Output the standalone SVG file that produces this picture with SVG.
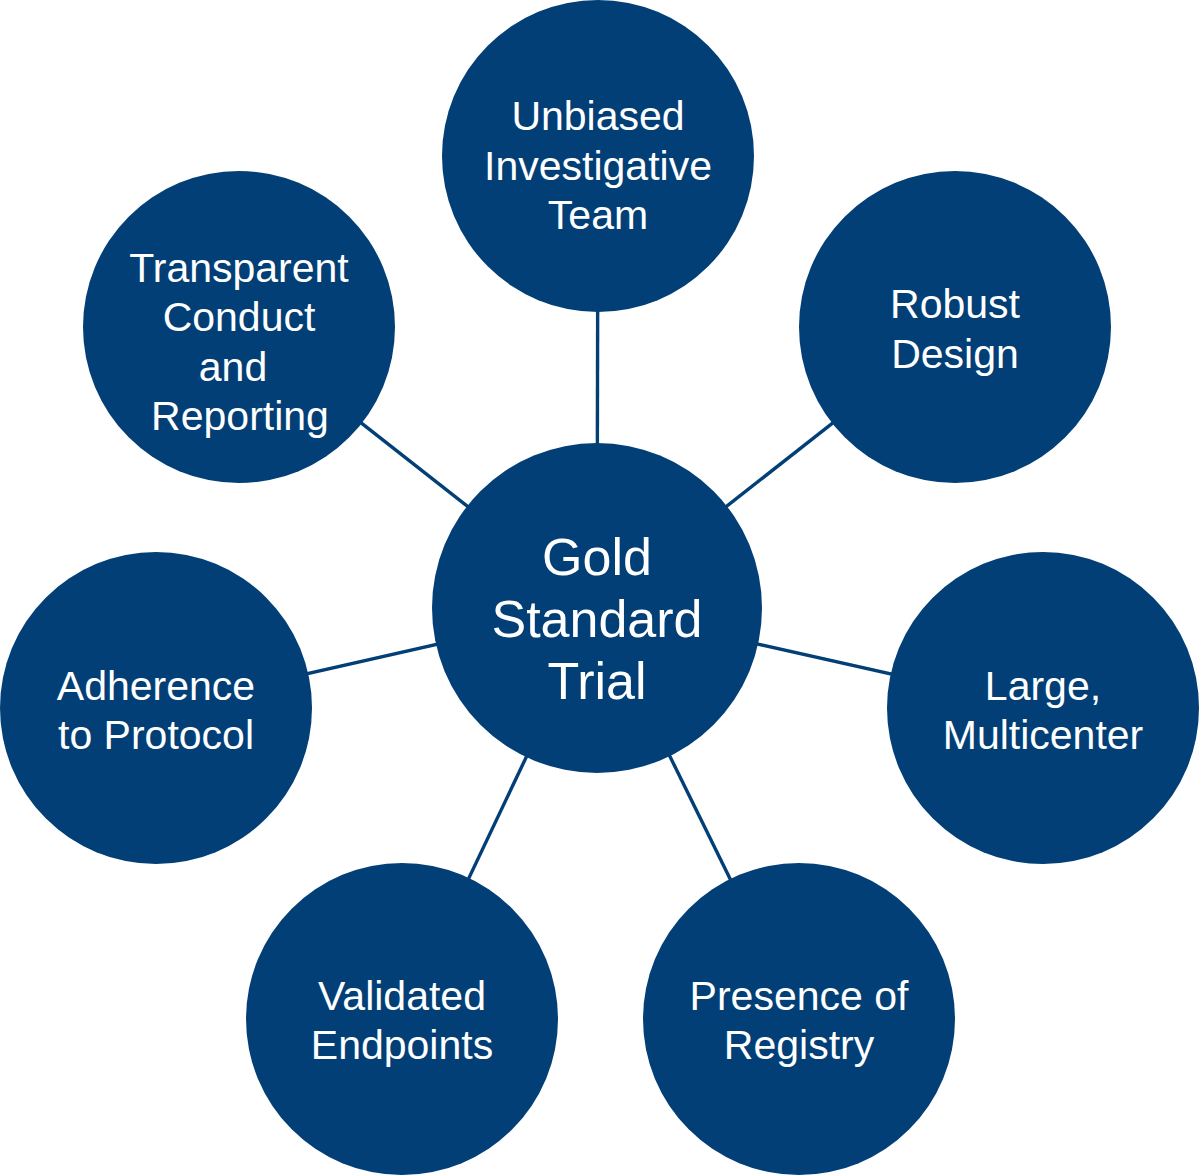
<svg xmlns="http://www.w3.org/2000/svg" width="1200" height="1175" viewBox="0 0 1200 1175">
<style>
.node { fill: #023f76; }
.conn { stroke: #023f76; stroke-width: 3.4; fill: none; }
.lbl { fill: #ffffff; font-family: "Liberation Sans", Arial, sans-serif; font-size: 41px; text-anchor: middle; }
.big { font-size: 52px; }
</style>
<rect width="1200" height="1175" fill="#ffffff"/>
<g id="connectors">
<line class="conn" x1="597" y1="608" x2="598" y2="156"/>
<line class="conn" x1="597" y1="608" x2="955" y2="327"/>
<line class="conn" x1="597" y1="608" x2="1043" y2="708"/>
<line class="conn" x1="597" y1="608" x2="799" y2="1019"/>
<line class="conn" x1="597" y1="608" x2="402" y2="1019"/>
<line class="conn" x1="597" y1="608" x2="156" y2="708"/>
<line class="conn" x1="597" y1="608" x2="239" y2="327"/>
</g>
<g id="node-center">
<circle class="node" cx="597" cy="608" r="165"/>
<text class="lbl big" x="597" y="575">Gold</text>
<text class="lbl big" x="597" y="637">Standard</text>
<text class="lbl big" x="597" y="699">Trial</text>
</g>
<g id="node-unbiased">
<circle class="node" cx="598" cy="156" r="156"/>
<text class="lbl" x="598" y="130">Unbiased</text>
<text class="lbl" x="598" y="180">Investigative</text>
<text class="lbl" x="598" y="229">Team</text>
</g>
<g id="node-robust">
<circle class="node" cx="955" cy="327" r="156"/>
<text class="lbl" x="955" y="318">Robust</text>
<text class="lbl" x="955" y="368">Design</text>
</g>
<g id="node-large">
<circle class="node" cx="1043" cy="708" r="156"/>
<text class="lbl" x="1043" y="700">Large,</text>
<text class="lbl" x="1043" y="749">Multicenter</text>
</g>
<g id="node-registry">
<circle class="node" cx="799" cy="1019" r="156"/>
<text class="lbl" x="799" y="1010">Presence of</text>
<text class="lbl" x="799" y="1059">Registry</text>
</g>
<g id="node-endpoints">
<circle class="node" cx="402" cy="1019" r="156"/>
<text class="lbl" x="402" y="1010">Validated</text>
<text class="lbl" x="402" y="1059">Endpoints</text>
</g>
<g id="node-adherence">
<circle class="node" cx="156" cy="708" r="156"/>
<text class="lbl" x="156" y="700">Adherence</text>
<text class="lbl" x="156" y="749">to Protocol</text>
</g>
<g id="node-transparent">
<circle class="node" cx="239" cy="327" r="156"/>
<text class="lbl" x="239" y="282">Transparent</text>
<text class="lbl" x="239" y="331">Conduct</text>
<text class="lbl" x="233" y="381">and</text>
<text class="lbl" x="240" y="430">Reporting</text>
</g>
</svg>
